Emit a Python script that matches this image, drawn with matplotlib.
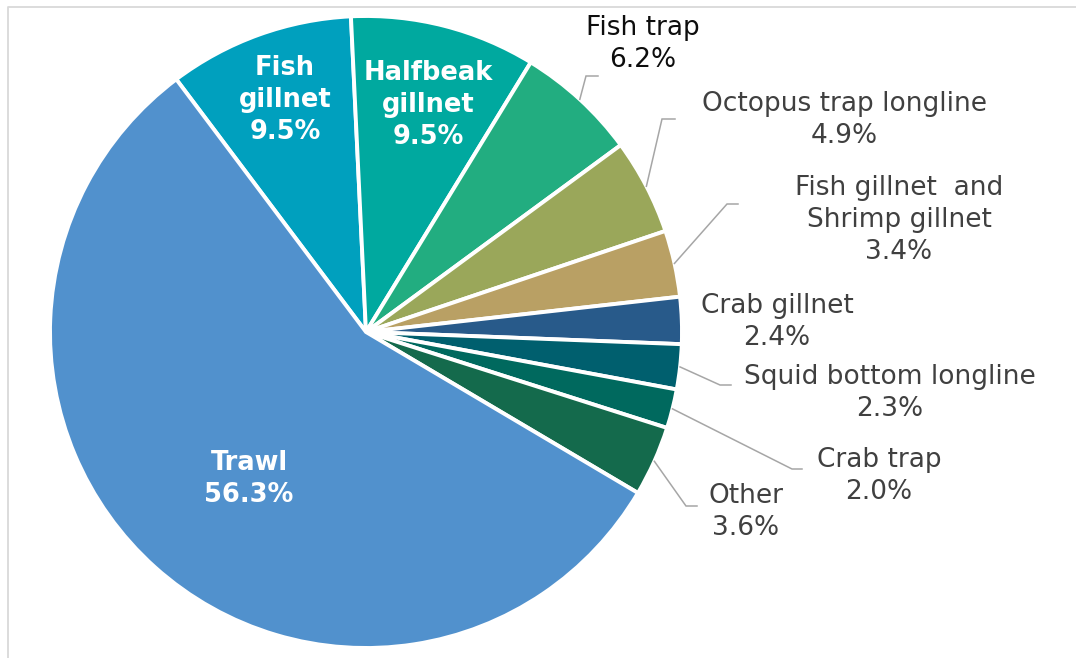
import matplotlib
matplotlib.use("Agg")
import matplotlib.pyplot as plt
import numpy as np

# ---- data ----
categories = ["Fish\ngillnet", "Halfbeak\ngillnet", "Fish trap", "Octopus trap longline",
              "Fish gillnet  and\nShrimp gillnet", "Crab gillnet", "Squid bottom longline",
              "Crab trap", "Other", "Trawl"]
shares = [9.5, 9.5, 6.2, 4.9, 3.4, 2.4, 2.3, 2.0, 3.6, 56.3]
colors = ["#00A0BE", "#00A99F", "#22AD80", "#9AA75A", "#B9A064",
          "#285A8A", "#005F6E", "#00695E", "#146A4C", "#5191CD"]

# ---- layout (pixel space, y measured from top) ----
W, H = 1076, 658
cx, cy, R = 366, 332, 316
start_angle = 126.9

# label placement: (x, y of block centre, inside?, colour, elbow-start, elbow-end)
label_pos = [
    (285, 100, True, "white", None, None),
    (428, 105, True, "white", None, None),
    (643, 44, False, "#0D0D0D", (586, 76), (598, 76)),
    (844, 120, False, "#404040", (662, 119), (675, 119)),
    (899, 220, False, "#404040", (727, 204), (738, 204)),
    (777, 322, False, "#404040", None, None),
    (890, 393, False, "#404040", (720, 385), (731, 385)),
    (879, 476, False, "#404040", (792, 469), (802, 469)),
    (746, 512, False, "#404040", (686, 506), (697, 506)),
    (249, 479, True, "white", None, None),
]

def Y(y):
    return H - y

fig = plt.figure(figsize=(W / 100, H / 100), dpi=100)
ax = fig.add_axes([0, 0, 1, 1])

wedges, _ = ax.pie(shares, colors=colors, startangle=start_angle, counterclock=False,
                   center=(cx, Y(cy)), radius=R,
                   wedgeprops=dict(edgecolor="white", linewidth=2.8))

ax.set_xlim(0, W)
ax.set_ylim(0, H)
ax.set_aspect("equal")
ax.axis("off")

for w, cat, val, (lx, ly, inside, col, e1, e2) in zip(wedges, categories, shares, label_pos):
    txt = f"{cat}\n{val:.1f}%"
    ax.text(lx, Y(ly), txt, ha="center", va="center", multialignment="center",
            color=col, fontsize=18.5 if inside else 19,
            fontweight="bold" if inside else "normal",
            family="DejaVu Sans", linespacing=1.3)
    if e1 is not None:
        mid = np.deg2rad((w.theta1 + w.theta2) / 2)
        sx = cx + R * np.cos(mid)
        sy = Y(cy) + R * np.sin(mid)
        ax.plot([sx, e1[0], e2[0]], [sy, Y(e1[1]), Y(e2[1])],
                color="#A6A6A6", linewidth=1.1, solid_joinstyle="miter")

# chart-area border (top and left visible)
ax.plot([7.5, 7.5, W + 5], [-5, Y(6.7), Y(6.7)], color="#D9D9D9",
        linewidth=1.3, clip_on=False)

fig.savefig("out.png", dpi=100, facecolor="white")
